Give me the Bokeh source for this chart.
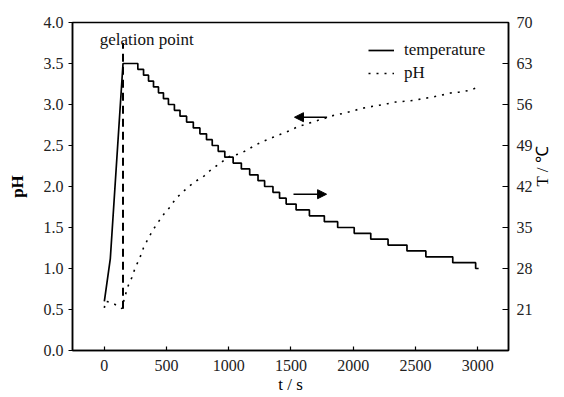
from bokeh.plotting import figure
from bokeh.models import (Range1d, LinearAxis, FixedTicker, PrintfTickFormatter, Label,
                          Arrow, NormalHead, Legend, LegendItem)
from bokeh.embed import file_html
from bokeh.resources import INLINE

# ---------------- data ----------------
# temperature: initial heating ramp
ramp_t = [0, 48, 150, 269]
ramp_T = [22.4, 29.7, 63.0, 63.0]
# temperature: cooling staircase (time of each 1 degree drop, level after drop)
step_t = [269, 315, 355, 395, 435, 475, 515, 563, 608, 661, 715, 768, 821, 867, 915,
          968, 1035, 1101, 1168, 1235, 1288, 1355, 1408, 1461, 1541, 1648, 1768, 1875,
          2008, 2141, 2280, 2432, 2584, 2800, 2984]
step_T = [62, 61, 60, 59, 58, 57, 56, 55, 54, 53, 52, 51, 50, 49, 48,
          47, 46, 45, 44, 43, 42, 41, 40, 39, 38, 37, 36, 35,
          34, 33, 32, 31, 30, 29, 28]
end_t = 3008

# pH
ph_t = [0, 8, 48, 75, 101, 141, 160, 189, 221, 248, 283, 314, 354, 395, 435, 482, 528,
        573, 635, 688, 741, 803, 861, 928, 995, 1088, 1141, 1208, 1275, 1355, 1421, 1488,
        1555, 1621, 1701, 1768, 1848, 1915, 1995, 2061, 2128, 2208, 2275, 2341, 2421,
        2488, 2555, 2635, 2701, 2781, 2848, 2928, 3003]
ph_v = [0.52, 0.60, 0.59, 0.57, 0.55, 0.51, 0.63, 0.78, 0.89, 1.01, 1.12, 1.25, 1.37,
        1.48, 1.57, 1.67, 1.75, 1.85, 1.94, 2.01, 2.07, 2.13, 2.21, 2.28, 2.36, 2.40,
        2.44, 2.50, 2.55, 2.60, 2.64, 2.68, 2.73, 2.76, 2.80, 2.83, 2.87, 2.89, 2.92,
        2.95, 2.97, 2.99, 3.01, 3.03, 3.04, 3.05, 3.07, 3.09, 3.11, 3.14, 3.15, 3.17, 3.21]

# gelation point marker
gel_t = [150, 150]
gel_ph = [0.51, 3.75]
gel_label = "gelation point"
gel_label_pos = (340, 3.79)

# arrows (pH axis units): x_start, x_end, y
arrow_to_ph = (1790, 1528, 2.845)
arrow_to_T = (1520, 1786, 1.906)

x_ticks = [0, 500, 1000, 1500, 2000, 2500, 3000]
ph_ticks = [0.0, 0.5, 1.0, 1.5, 2.0, 2.5, 3.0, 3.5, 4.0]
T_ticks = [21, 28, 35, 42, 49, 56, 63, 70]

FONT = "Liberation Serif"

# build temperature polyline (ramp + staircase)
temp_x = list(ramp_t)
temp_y = list(ramp_T)
prev = ramp_T[-1]
for t, T in zip(step_t, step_T):
    temp_x += [t, t]
    temp_y += [prev, T]
    prev = T
temp_x.append(end_t)
temp_y.append(prev)

p = figure(width=564, height=397, output_backend="svg", toolbar_location=None,
           x_range=Range1d(-256, 3248), y_range=Range1d(0, 4),
           min_border_left=72, min_border_right=54, min_border_top=22,
           min_border_bottom=47)
p.extra_y_ranges = {"T": Range1d(14, 70)}
p.grid.visible = False
p.outline_line_color = "black"
p.outline_line_width = 1.5
p.background_fill_color = "white"
p.border_fill_color = "white"

r_temp = p.line(temp_x, temp_y, y_range_name="T", line_color="black", line_width=1.7)
r_ph = p.line(ph_t, ph_v, line_color="black", line_width=1.6, line_dash="2 6")
p.line(gel_t, gel_ph, line_color="black", line_width=2, line_dash="8 5")

p.add_layout(Label(x=gel_label_pos[0], y=gel_label_pos[1], text=gel_label,
                   text_align="center", text_baseline="middle",
                   text_font=FONT, text_font_size="17px", text_color="#111111"))

for xs, xe, y in (arrow_to_ph, arrow_to_T):
    p.add_layout(Arrow(end=NormalHead(size=9, fill_color="black", line_color="black"),
                       x_start=xs, y_start=y, x_end=xe, y_end=y,
                       line_color="black", line_width=1.6))

# axes
xa = p.xaxis[0]
xa.ticker = FixedTicker(ticks=x_ticks)
xa.major_tick_in = 4
xa.major_tick_out = 0
xa.major_label_standoff = 9
xa.axis_label = "t / s"
xa.axis_label_standoff = 1

ya = p.yaxis[0]
ya.ticker = FixedTicker(ticks=ph_ticks)
ya.formatter = PrintfTickFormatter(format="%.1f")
ya.major_tick_in = 0
ya.major_tick_out = 4
ya.axis_label = "pH"
ya.axis_label_standoff = 14

ra = LinearAxis(y_range_name="T", ticker=FixedTicker(ticks=T_ticks))
ra.major_tick_in = 6
ra.major_tick_out = 0
ra.axis_label = "T / ℃"
p.add_layout(ra, "right")

for ax in (xa, ya, ra):
    ax.axis_line_width = 1.5
    ax.axis_line_color = "black"
    ax.major_tick_line_color = "black"
    ax.major_tick_line_width = 1.2
    ax.minor_tick_line_color = None
    ax.major_label_text_font = FONT
    ax.major_label_text_font_size = "16px"
    ax.major_label_text_color = "#222222"
    ax.axis_label_text_font = FONT
    ax.axis_label_text_font_size = "17px"
    ax.axis_label_text_font_style = "normal"
    ax.axis_label_text_color = "black"
ya.axis_label_text_font_style = "bold"
ra.major_label_standoff = 8
ra.axis_label_standoff = 7
ra.axis_label_orientation = 1.5708

legend = Legend(items=[LegendItem(label="temperature", renderers=[r_temp]),
                       LegendItem(label="pH", renderers=[r_ph])],
                location=(296, 267), orientation="vertical")
legend.label_text_font = FONT
legend.label_text_font_size = "17px"
legend.label_text_color = "#111111"
legend.glyph_width = 26
legend.glyph_height = 20
legend.label_height = 20
legend.spacing = 3
legend.padding = 0
legend.margin = 0
legend.label_standoff = 10
legend.border_line_color = None
legend.background_fill_alpha = 0
p.add_layout(legend)

open("out.html", "w").write(file_html(p, INLINE))
